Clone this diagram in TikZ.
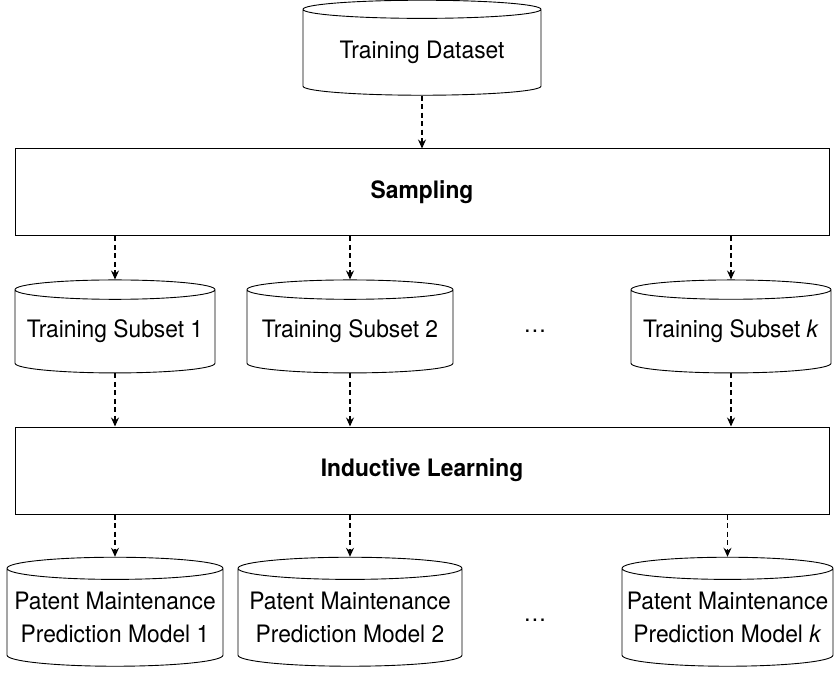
\documentclass[tikz,border=0pt]{standalone}
\usepackage{fontspec}
\setmainfont[FakeStretch=0.95]{TeX Gyre Heros}
\usetikzlibrary{shapes.geometric,positioning,arrows.meta}

\tikzset{
  dbase/.style={cylinder, shape border rotate=90, draw, line width=0.9pt,
    aspect=0.11, inner sep=0pt, align=center, font=\fontsize{24}{33}\selectfont},
  stagebox/.style={draw, line width=1pt, minimum width=814pt, minimum height=87pt,
    inner sep=0pt, font=\fontsize{24}{27}\selectfont\bfseries},
  flow/.style={dashed, dash pattern=on 5pt off 3.5pt, line width=1.1pt,
    -{Stealth[length=9pt,width=8pt,inset=3pt]}},
  dots/.style={font=\fontsize{24}{27}\selectfont, anchor=base}
}

\begin{document}
\begin{tikzpicture}[x=1pt,y=-1pt]
\useasboundingbox (0,0) rectangle (835,676);

% source data
\node[dbase, minimum width=238pt, minimum height=95pt] (train) at (422,52.5) {Training Dataset};

% sampling stage
\node[stagebox] (sampling) at (422,192.5) {Sampling};

% training subsets
\node[dbase, minimum width=200pt, minimum height=93pt] (sub1) at (115,331.5) {Training Subset 1};
\node[dbase, minimum width=206pt, minimum height=93pt] (sub2) at (350,331.5) {Training Subset 2};
\node[dbase, minimum width=200pt, minimum height=93pt] (subk) at (731,331.5) {Training Subset \textit{k}};
\node[dots] (subdots) at (535,332) {\dots};

% learning stage
\node[stagebox] (learning) at (422,470.5) {Inductive Learning};

% models
\node[dbase, minimum width=216pt, minimum height=109pt] (mod1) at (115,617.5) {Patent Maintenance\\Prediction Model 1};
\node[dbase, minimum width=224pt, minimum height=109pt] (mod2) at (350,617.5) {Patent Maintenance\\Prediction Model 2};
\node[dbase, minimum width=211pt, minimum height=109pt] (modk) at (727.5,617.5) {Patent Maintenance\\Prediction Model \textit{k}};
\node[dots] (moddots) at (535,621) {\dots};

% arrows
\draw[flow] (train.bottom) -- (sampling.north);
\foreach \s in {sub1,sub2,subk}
{
\draw[flow] (sampling.south -| \s.top) -- (\s.top);
\draw[flow] (\s.bottom) -- (learning.north -| \s.bottom);
}
\foreach \m in {mod1,mod2,modk}
\draw[flow] (learning.south -| \m.top) -- (\m.top);
\end{tikzpicture}
\end{document}
